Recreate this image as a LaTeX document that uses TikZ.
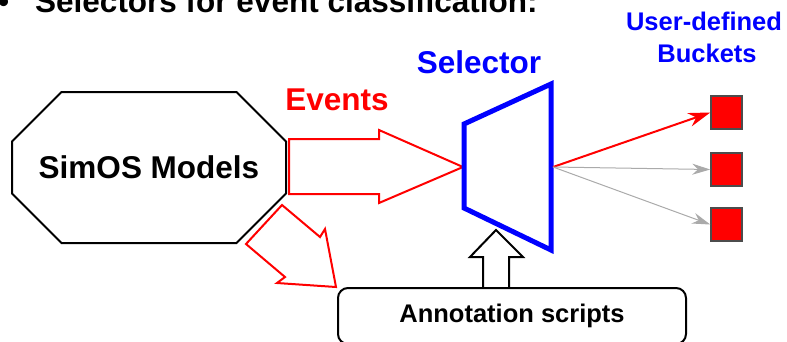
\documentclass[tikz,border=0pt]{standalone}
\usepackage{fontspec}
\setmainfont{Liberation Sans}
\usetikzlibrary{arrows.meta,shapes.misc}

\definecolor{selblue}{RGB}{0,0,255}
\definecolor{arrowgray}{RGB}{170,170,170}

\begin{document}
\begin{tikzpicture}[x=1pt, y=-1pt,
    bigtext/.style={font=\fontsize{31.5}{36}\selectfont\bfseries},
    smalltext/.style={font=\fontsize{25.5}{30}\selectfont\bfseries},
    bucket/.style={draw=black!70, fill=red, line width=1.5pt, minimum width=31pt, minimum height=33pt, inner sep=0pt},
    fatarrow/.style={line width=2pt, line join=miter, fill=white}]
    \useasboundingbox (0,0) rectangle (787,341);
    \clip (0,0) rectangle (787,341);

    % Heading
    \node[bigtext, anchor=base west, inner sep=0pt] (bullet) at (-2,12) {\textbullet};
    \node[bigtext, anchor=base west, inner sep=0pt] (title) at (35,12) {Selectors for event classification:};

    % Block arrows out of the models
    \draw[fatarrow, draw=red] (289,139) -- (379,139) -- (379,130) -- (463,167) -- (379,203) -- (379,194) -- (289,194) -- cycle;
    \draw[fatarrow, draw=red] (282,205) -- (320,237) -- (325,229) -- (336,287) -- (277,283) -- (285,277) -- (246,244) -- cycle;

    % Models
    \node[draw, fill=white, line width=2pt, chamfered rectangle, chamfered rectangle xsep=38pt, chamfered rectangle ysep=38pt,
          minimum width=274pt, minimum height=151pt, inner sep=0pt, bigtext] (sim) at (149,167.5) {SimOS Models};
    \node[bigtext, text=red, anchor=base] (events) at (337,110) {Events};

    % Selector
    \draw[selblue, line width=5pt, line join=miter] (464,124) -- (551,84) -- (551,250) -- (464,208) -- cycle;
    \coordinate (selout) at (553,167);
    \node[bigtext, text=selblue, anchor=base] (sellabel) at (479,73) {Selector};

    % Buckets
    \node[bucket] (b1) at (726.5,112.5) {};
    \node[bucket] (b2) at (726.5,169.5) {};
    \node[bucket] (b3) at (726.5,224.5) {};
    \node[smalltext, text=selblue, anchor=base] (udlabel) at (704,30) {User-defined};
    \node[smalltext, text=selblue, anchor=base] (bklabel) at (707,62) {Buckets};

    \draw[red, line width=2pt, -{Stealth[length=22pt, width=14pt]}] (selout) -- (b1.west);
    \draw[arrowgray, line width=1pt, -{Stealth[length=18pt, width=11pt]}] (selout) -- (b2.west);
    \draw[arrowgray, line width=1pt, -{Stealth[length=18pt, width=11pt]}] (selout) -- (b3.west);

    % Scripts
    \draw[fatarrow, draw=black] (483,288) -- (483,257) -- (470,257) -- (496,230) -- (523,257) -- (509,257) -- (509,288);
    \node[draw, line width=2pt, rounded corners=10pt, minimum width=348pt, minimum height=56pt, smalltext] (annot) at (512,316) {Annotation scripts};
\end{tikzpicture}
\end{document}
